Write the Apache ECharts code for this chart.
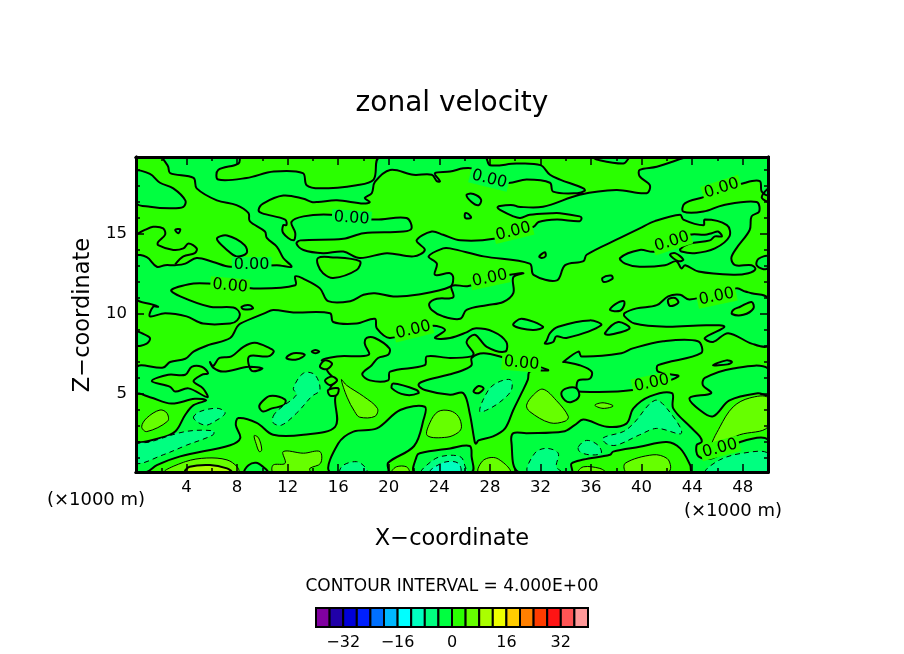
<!DOCTYPE html>
<html>
<head>
<meta charset="utf-8">
<title>zonal velocity</title>
<script src="https://cdn.jsdelivr.net/npm/echarts@6/dist/echarts.min.js"></script>
<style>
  html, body {margin: 0; padding: 0; background: #fff;}
  #chart {width: 904px; height: 654px;}
</style>
</head>
<body>
<div id="chart"></div>
<script>
// axis values, km
const xMajorTicks = [4, 8, 12, 16, 20, 24, 28, 32, 36, 40, 44, 48];
const xMinorTicks = [2, 6, 10, 14, 18, 22, 26, 30, 34, 38, 42, 46, 50];
const zMajorTicks = [5, 10, 15];
const zMinorTicks = [1, 2, 3, 4, 6, 7, 8, 9, 11, 12, 13, 14, 16, 17, 18, 19];
const zMin = 0.125;
const zMax = 19.81;

// colour bar, lower edge of every 4 m/s band
const barLevels = [-40, -36, -32, -28, -24, -20, -16, -12, -8, -4, 0, 4, 8, 12, 16, 20, 24, 28, 32, 36];
const barLabels = [-32, -16, 0, 16, 32];

// contour regions, [x km, z km]
// -4..0 band, outside of these is 0..4
const belowZero = [
  [[2.2,19.81],[8.1,19.81],[8.1,19.4],[6.5,19],[6.5,18.4],[8.75,18.5],[10.9,18.9],[13.2,18.8],[13.5,18.05],[14.55,17.85],[17.45,18.05],[18.8,18.4],[19.3,19.81],[27.6,19.81],[28,19.3],[30.1,19.4],[32,19.3],[32.75,18.7],[33.55,18.4],[35.4,17.85],[35.5,17.7],[34.9,17.55],[33,17.65],[32.75,18.2],[30.9,18.4],[29.3,18.2],[26.55,19.1],[25.9,19.1],[24.85,18.9],[23.65,18.8],[24.05,18.3],[23.8,18.3],[23.4,18.7],[21.95,18.7],[20.1,19],[18.9,18.25],[18.65,17.55],[18.1,17.25],[18.5,17],[18,16.9],[15.9,17.1],[14.4,17],[13.9,17],[13.25,17.2],[11.65,17.4],[10.05,16.9],[9.7,16.5],[9.95,16.3],[11.8,15.9],[11.9,15.55],[11.65,15.55],[11.65,15.05],[12.45,14.6],[12.6,15.05],[12.3,15.75],[13.25,16.1],[15.35,16.2],[18.9,15.9],[21.4,16],[21.8,15.35],[21.15,15.15],[18,15.05],[16.4,14.7],[13,14.6],[12.7,14.4],[13.25,14],[14.8,13.8],[16.4,13.9],[17.7,13.5],[19.85,13.8],[21.95,13.6],[22.85,14],[22.2,14.6],[23.4,15.15],[24.3,14.95],[25.65,14.6],[28.3,14.7],[31.45,15.45],[31.85,15.75],[33.3,15.9],[35.1,15.8],[35.25,16],[35.1,16.1],[33.55,16.3],[32.9,16.3],[31.15,16.2],[30.4,16],[29.85,16.1],[28.8,16.5],[28.6,16.65],[28.8,16.75],[29.85,16.8],[30.25,16.7],[32.2,16.7],[35.1,17.45],[38,17.75],[40.4,17.55],[40.65,18.05],[39.85,18.6],[39.85,19],[41.2,19.2],[43.3,19.75],[43.55,19.81],[50,19.81],[50,17.45],[49.5,17.65],[49.35,18.3],[48.2,18.2],[44.9,17.3],[43.4,16.9],[43.3,16.4],[44.9,16.4],[46.45,16.8],[49.1,17],[49.3,16.4],[48.7,16.1],[48.55,15.25],[47.5,14.1],[47.1,13.5],[47.4,13.05],[48.7,13.05],[49,12.8],[48.45,12.55],[47.25,12.45],[44.5,12.65],[43.45,13.05],[43.15,12.85],[42.75,13.3],[41.85,13.05],[39.85,12.95],[38.7,13.15],[38.3,13.5],[39.85,14],[41.05,13.9],[43.8,14.95],[45,14.95],[45.55,15.05],[46.05,15.15],[46.35,14.85],[45.8,14.85],[45.4,14.6],[43.8,14.4],[43.05,14.05],[43.15,13.9],[44.2,13.8],[45.8,14.1],[46.95,14.85],[46.75,15.55],[45,15.9],[44.9,15.55],[43.3,15.9],[43.05,16.2],[41.05,15.8],[39.85,15.35],[38.3,14.75],[35.65,13.7],[35.4,13.3],[33.95,13.05],[33.3,12.1],[31.45,12.45],[31.15,13.15],[27.5,13.6],[24.85,14.1],[24.3,14.1],[23.15,13.6],[23.8,13.15],[23.65,12.45],[24.85,12.55],[25.1,12.25],[24.85,11.7],[22.2,11.2],[20.35,11.1],[18.9,11.3],[18,11.2],[16.95,10.8],[15.2,10.8],[14.55,11.6],[13.25,12.2],[12.6,12.35],[12.6,11.8],[9.3,11.6],[5.7,11.9],[4.55,11.9],[2.8,11.5],[3.5,11.1],[5.85,10.45],[7.7,10.4],[8.2,10.05],[8,9.6],[7.45,9.4],[5.3,9.4],[4,9.85],[2.3,10.05],[1.1,9.85],[1.35,10.45],[1.75,10.45],[1.25,10.6],[0,10.98],[0,13.6],[0.85,13.55],[1.65,12.95],[2.3,13.05],[3.1,13.05],[3.9,13.15],[4.8,13.5],[6.1,13.25],[7.45,12.95],[11.15,13.05],[12.3,12.95],[11.65,13.5],[11.15,14.2],[10.35,14.75],[10.2,15.15],[9,15.8],[8.9,16.3],[7.95,16.8],[6.4,17.1],[4.8,17.85],[4.55,18.5],[2.7,18.8],[2.55,19.2]],
  [[0,18.9],[1.1,18.75],[1.9,18.2],[2.95,17.85],[3.9,17.1],[3.75,16.7],[2.7,16.6],[1.1,16.7],[0,16.95]],
  [[36.2,19.81],[36.45,19.65],[38.55,19.4],[38.95,19.7],[38.95,19.81]],
  [[0,6.6],[2.15,6.65],[2.7,7],[3.9,7.2],[4.55,7.65],[5.7,8.05],[7.45,8.5],[8,9.2],[8.25,9.4],[10.2,10.05],[10.85,10.25],[12.45,10.1],[15.35,10.05],[15.6,9.5],[17.45,9.4],[18.9,9.7],[19.05,9.1],[20.1,8.5],[23.4,9.25],[24.45,9],[23.65,8.5],[24.85,8.5],[26.15,8.85],[26.8,9.1],[28.25,8.9],[29.3,8.25],[29.2,7.65],[27.75,7.95],[26.8,8.7],[26.15,8.25],[26.7,7.55],[26.55,7.35],[24.85,7.25],[23,7.35],[22.85,6.8],[20.1,6.4],[19.95,5.85],[18.5,5.85],[17.9,6.25],[18.65,6.8],[19.15,7.25],[19.95,7.45],[20.05,7.85],[18.9,8.5],[18.25,8.5],[18.1,8.15],[18.4,7.45],[15.9,7.35],[14.7,7.1],[15.5,6.9],[15.1,6.55],[15.5,6.1],[15.9,5.85],[15.5,5.55],[15.35,5.25],[16,5.35],[15.8,4.9],[15.75,4.65],[15.75,2.95],[13.25,2.45],[10.85,2.45],[9.55,3.2],[8.1,3.5],[7.9,3.05],[8.25,2.25],[7.45,1.8],[3.5,1.1],[1.65,0.55],[0.85,0.125],[0,0.125]],
  [[24.97,11.75],[26.3,11.75],[29.6,12.45],[30.65,12.55],[29.85,12.3],[29.85,11.3],[29.05,10.75],[27.75,10.55],[26.15,10.25],[25.65,9.7],[24.3,9.85],[23.4,10.25],[23.2,10.65],[23.8,10.95],[25.1,11.05]],
  [[26.55,7.25],[27.5,7.55],[29.2,7.25],[32.6,6.5],[31.15,6.4],[31,5.9],[30.5,5.05],[29.85,4],[29.2,2.85],[28.25,2.35],[27.1,2.1],[26.9,1.9],[26.8,2],[26.4,3.8],[25.9,5.05],[24.85,4.95],[22.85,5.25],[22.35,5.55],[22.75,5.8],[24.7,6.2],[25.9,6.5],[26.55,6.8]],
  [[15.35,0.125],[16,1.9],[17.2,2.65],[19.05,2.85],[20.9,4],[22.85,4.2],[22.75,3.4],[22,1.75],[19.95,0.7],[19.9,0.125]],
  [[22.05,0.125],[22.2,1.1],[22.45,1.3],[24.85,1.6],[26.4,1.75],[26.55,1.1],[26.55,0.125]],
  [[30.25,0.125],[29.7,2],[29.85,2.55],[30.9,2.55],[33.8,2.65],[34.7,3.05],[35.4,3.4],[37.25,2.95],[38.8,3.15],[39.35,4.1],[40.65,4.85],[42.4,5.05],[42.5,4.1],[43.85,2.95],[44.6,2.35],[44.75,2],[44.35,1.8],[44.5,1.1],[45.65,1],[47.8,2],[50,2.15],[50,0.125],[44,0.125],[43.85,0.55],[43.05,1.6],[42,2],[39.85,1.7],[37.75,1.4],[37.5,1.2],[35.4,0.9],[34.45,0.65],[34.45,0.125]],
  [[8.6,0.125],[8.9,0.55],[9.5,0.7],[10.05,0.45],[10.4,0.125]],
  [[38.65,10.05],[39.6,10.35],[41.2,10.55],[42.1,11.1],[43.05,11.2],[43.8,10.9],[47.5,11.6],[48.2,11.4],[48.7,11.3],[50,10.95],[50,8.05],[48.7,8.15],[46.85,8.8],[45.65,8.25],[45,8.5],[46.55,9.2],[45.1,9.3],[41.95,9.2],[39.45,9.4],[38.65,9.85]],
  [[50,13.6],[49.25,13.45],[49.1,13.05],[49.65,12.8],[50,12.9]],
  [[50,6.6],[47.25,6.6],[45,6],[44.85,5.55],[45.5,5.05],[43.8,4.75],[44.6,4],[45.65,3.6],[46.95,4.6],[49.2,5.05],[50,4.95]],
  [[33.9,7],[35.1,6.8],[36.05,6.4],[35.9,5.95],[35,5.85],[34.85,5.35],[35,5.15],[39.3,5.25],[42.9,6.1],[41.3,6.4],[41.3,6.8],[44.7,7.55],[44.45,8.3],[41.7,8.3],[39.3,7.85],[38.4,7.55],[35.25,7.35],[35,7.65],[33.8,7]],
  [[33.65,5.05],[34.05,5.35],[34.85,5.35],[35.05,4.85],[34.45,4.5],[33.95,4.6]],
  [[29.85,9.3],[30.5,9.7],[32.2,9.2],[31.4,9]],
  [[32.75,8.8],[33.4,9.2],[35.9,9.6],[36.8,9.3],[34.05,8.5],[33.25,8.6],[33,8.25],[32.35,8.15],[32.5,8.35]],
  [[37.1,8.8],[38.15,9.5],[39.05,9.1],[37.45,8.7]],
  [[45.65,6.8],[46.7,7.1],[47.15,7],[46.8,6.85]],
  [[37.5,10.25],[37.9,10.6],[38.6,10.8],[38.6,10.5],[38.3,10.2]],
  [[36.9,12.25],[37.6,12.4],[37.7,12.2],[37,12]],
  [[26.15,17.45],[26.7,17.5],[27.3,17.15],[27.1,16.8],[26.55,17]],
  [[26.05,16.3],[26.3,16.25],[26.5,16],[26.05,16]],
  [[6.4,14.7],[7.2,14.9],[8.6,14.3],[8.75,13.8],[7.95,13.6],[7.2,14]],
  [[3.1,15.25],[3.5,15.3],[3.35,15.05]],
  [[8.35,10.45],[9,10.55],[9.25,10.35],[8.5,10.3]],
  [[0,8.9],[0.45,8.8],[1.1,8.5],[0.85,8.15],[0,8.05]],
  [[20.35,5.65],[22.2,5.25],[22.35,5.05],[21.3,4.95],[20.25,5.35]],
];

// islands of 0..4 sitting inside the regions above
const aboveZeroIslands = [
  [[0,4.95],[1.1,4.8],[2.8,4.4],[4.65,4.7],[5.55,4.6],[4.55,4.3],[3.9,3.7],[3.1,2.65],[1.9,2.25],[0,2.1]],
  [[1.25,5.8],[2.55,6.2],[3.9,6.2],[4.4,6.7],[5.2,6.7],[5.7,6.3],[5.2,6.2],[4.55,5.8],[5.3,5.35],[5.65,4.8],[4.15,5.35],[3.1,5.15],[2.7,5.45]],
  [[5.85,7],[6.1,6.65],[6.9,6.4],[8.9,6.7],[10,6.6],[9.15,6.45],[8.95,7.35],[10.45,7.35],[10.9,7.65],[10.6,7.85],[9.4,8.2],[8.5,7.95],[7.55,7.35],[6.6,7.25],[6.1,6.75]],
  [[11.9,7.25],[12.45,7.55],[13.35,7.45],[12.7,7.15]],
  [[13.9,7.65],[14.2,7.75],[14.5,7.65],[14.2,7.55]],
  [[9.75,4.2],[9.95,4.5],[10.6,4.88],[11.8,4.65],[11.7,4.3],[10.75,4.1],[10.05,3.9]],
  [[14.55,6.7],[14.95,7.1],[15.5,6.9],[15.1,6.55]],
  [[14.95,5.85],[15.5,6.1],[15.9,5.85],[15.35,5.55]],
  [[15.2,5.25],[16,5.35],[15.9,4.95],[15.35,4.9]],
  [[26.7,5.15],[27.1,5.5],[27.5,5.35],[27.1,5.05]],
  [[31.9,13.6],[32.35,13.85],[32.4,13.6],[32.1,13.5]],
  [[14.4,13.5],[15.35,13.55],[17.7,13.3],[17.45,12.75],[15.6,12.25],[14.8,12.55],[14.4,13.05]],
  [[42.1,10.9],[42.65,11],[42.9,10.7],[42.25,10.5]],
  [[47.25,10.25],[47.8,10.45],[48.7,10.75],[48.85,10.35],[48.05,9.95],[47.15,10]],
  [[42.25,13.7],[42.65,13.8],[43.3,13.4],[42.9,13.3]],
];

// zero lines that do not bound a filled region
const zeroLines = [
  [[0,14.95],[0.7,15.25],[1.35,15.45],[2.15,15.35],[2.3,14.95],[1.75,14.5],[1.75,14.3],[2.95,14],[3.75,14.1],[4.15,14.4],[4.8,14.1],[4.65,13.8],[3.75,13.6],[3.1,13.1]],
  [[50,17.85],[49.5,17.3],[50,17]],
];

const bandMinus8 = [
  [[0,1.81],[1.1,2],[3.9,2.65],[6.1,2.7],[6.1,2.45],[4,1.8],[2.15,1.2],[0,0.67]],
  [[4.55,3.5],[5.05,3.9],[6.5,4.1],[7.05,3.8],[6.25,3.3],[5.45,3.05]],
  [[10.85,3.6],[11.25,4],[12.7,4.95],[12.45,5.35],[13.25,6.3],[14.15,6.2],[14.55,5.25],[13.9,4.85],[12.7,3.8],[11.5,3.05],[10.85,3.2]],
  [[16.15,0.125],[16.4,0.55],[17.45,0.77],[18.1,0.45],[18.25,0.125]],
  [[22.6,0.125],[23,0.55],[24.05,1.08],[25.65,1.08],[26.05,0.45],[26.15,0.125]],
  [[27.2,3.9],[27.5,4.7],[28.25,5.55],[29.6,5.9],[29.7,5.25],[28.8,4.5],[27.75,4]],
  [[31,0.125],[31.55,1.3],[32.45,1.6],[33.4,1.3],[33.25,0.45],[33.65,0.125]],
  [[35,1.7],[35.65,2.1],[36.55,1.8],[36.8,1.3],[35.9,1.2],[35.1,1.4]],
  [[36.95,2.25],[38.55,2.65],[39.35,3.15],[41.05,4.6],[42.1,4],[43.15,2.55],[41.2,2.85],[39.85,2.45],[38,1.8],[37.2,1.9]],
  [[45.1,0.125],[46.15,0.87],[48,1.3],[50,1.3],[50,0.125]],
];
const bandMinus12 = [
  [[23.25,0.125],[23.65,0.45],[24.6,0.77],[25.5,0.67],[25.65,0.125]],
];
const bandPlus4 = [
  [[0.45,2.95],[0.85,3.5],[1.9,4],[2.45,3.8],[2.5,3.3],[0.85,2.65]],
  [[2.3,0.125],[3.9,0.77],[5.6,1],[7.2,0.88],[8,0.45],[8.1,0.125]],
  [[10.85,0.125],[10.85,0.56],[11.8,0.67],[11.65,1.4],[13.25,1.3],[14.55,1.4],[14.6,0.67],[13.75,0.35],[13.75,0.125]],
  [[9.35,2.4],[9.7,2.25],[9.95,1.5],[9.75,1.4],[9.5,1.9]],
  [[16.25,5.9],[16.65,5.55],[18,4.85],[19.1,4.1],[18.9,3.6],[17.7,3.55],[17.3,3.9],[16.7,4.8]],
  [[20.25,0.125],[20.6,0.45],[21.4,0.45],[21.6,0.125]],
  [[23.05,2.4],[23.25,3.2],[23.9,3.9],[24.85,3.95],[25.5,3.6],[25.75,2.95],[25.5,2.6],[24.6,2.3]],
  [[27.1,0.125],[27.5,0.87],[28.55,0.98],[29.6,0.125]],
  [[30.9,4.3],[31.45,4.95],[32.2,5.3],[33.25,4.6],[34.2,3.6],[33.95,3.3],[32.75,3.2],[31.15,3.9]],
  [[36.3,4.3],[36.95,4.45],[37.75,4.25],[36.95,4.1]],
  [[35,0.125],[35.4,0.45],[36.7,0.35],[37.1,0.125]],
  [[38.7,0.67],[40.9,1.2],[42,0.98],[42.3,0.45],[42.1,0.125],[38.8,0.125]],
  [[45.6,1.75],[46.2,2.95],[47.25,4.2],[48.55,4.75],[50,4.75],[50,2.95],[47.75,2.45]],
];
const bandPlus8 = [
  [[3.9,0.125],[4.25,0.45],[5.85,0.56],[7.2,0.35],[7.55,0.125]],
];

// contour labels: x km, z km, tilt in degrees, 1 when the label sits on the -4..0 colour
const zeroLabels = [
  [9.15,13.06,0,1],[7.44,11.75,-5,0],[17.06,15.98,-4,1],[27.95,18.42,-14,1],
  [29.85,15.15,14,0],[28,12.23,12,0],[46.33,17.85,18,0],[42.4,14.52,18,0],
  [45.94,11.08,12,0],[21.94,9,14,0],[30.5,6.92,-5,0],[40.8,5.67,12,0],[46.2,1.6,15,0],
];

const bandColors = {
  "-40": "#8000a0", "-36": "#2000a8", "-32": "#0000d8", "-28": "#0020ff", "-24": "#0070ff",
  "-20": "#00b8ff", "-16": "#00ffff", "-12": "#00ffc0", "-8": "#00ff80", "-4": "#00ff40",
  "0": "#2aff00", "4": "#66ff00", "8": "#aaff00", "12": "#eeff00", "16": "#ffcc00",
  "20": "#ff8000", "24": "#ff3c00", "28": "#ff1414", "32": "#ff5555", "36": "#ff9999",
};
const labelFont = "DejaVu Sans";

function regionSeries(rings, level, lineWidth, lineDash) {
  return {
    type: "custom",
    coordinateSystem: "cartesian2d",
    clip: true,
    silent: true,
    data: rings.map(ring => ring[0]),
    renderItem: (params, api) => ({
      type: "polygon",
      shape: {points: rings[params.dataIndex].map(point => api.coord(point)), smooth: 0.35},
      style: {fill: bandColors[level], stroke: "#000", lineWidth: lineWidth, lineDash: lineDash},
    }),
  };
}

function lineSeries(lines) {
  return {
    type: "custom",
    coordinateSystem: "cartesian2d",
    clip: true,
    silent: true,
    data: lines.map(line => line[0]),
    renderItem: (params, api) => ({
      type: "polyline",
      shape: {points: lines[params.dataIndex].map(point => api.coord(point)), smooth: 0.35},
      style: {fill: null, stroke: "#000", lineWidth: 2},
    }),
  };
}

const labelSeries = {
  type: "custom",
  coordinateSystem: "cartesian2d",
  silent: true,
  data: zeroLabels,
  renderItem: (params, api) => {
    const row = zeroLabels[params.dataIndex];
    const pos = api.coord([row[0], row[1]]);
    return {
      type: "text",
      x: pos[0],
      y: pos[1],
      rotation: row[2] * Math.PI / 180,
      style: {
        text: "0.00",
        font: "16px " + labelFont,
        fill: "#000",
        align: "center",
        verticalAlign: "middle",
        backgroundColor: bandColors[row[3] ? "-4" : "0"],
        padding: [0, 2],
      },
    };
  },
};

const barSeries = {
  type: "custom",
  coordinateSystem: "cartesian2d",
  xAxisIndex: 4,
  yAxisIndex: 4,
  silent: true,
  data: barLevels.map(level => [level, 0.5]),
  renderItem: (params, api) => {
    const level = barLevels[params.dataIndex];
    const from = api.coord([level, 1]);
    const to = api.coord([level + 4, 0]);
    return {
      type: "rect",
      shape: {x: from[0], y: from[1], width: to[0] - from[0], height: to[1] - from[1]},
      style: {fill: bandColors[level], stroke: "#000", lineWidth: 2},
    };
  },
};

function xAxis(position, ticks, length, labels) {
  return {
    type: "value", gridIndex: 0, position: position, min: 0, max: 50, z: 10,
    axisLine: {show: true, onZero: false, lineStyle: {color: "#000", width: 3}},
    axisTick: {show: true, inside: true, length: length, customValues: ticks, lineStyle: {color: "#000", width: 1.5}},
    axisLabel: labels ? {show: true, customValues: ticks, margin: 7, color: "#000", fontFamily: labelFont, fontSize: 16.5} : {show: false},
    splitLine: {show: false},
  };
}

function zAxis(position, ticks, length, labels) {
  return {
    type: "value", gridIndex: 0, position: position, min: zMin, max: zMax, z: 10,
    axisLine: {show: true, onZero: false, lineStyle: {color: "#000", width: 3}},
    axisTick: {show: true, inside: true, length: length, customValues: ticks, lineStyle: {color: "#000", width: 1.5}},
    axisLabel: labels ? {show: true, customValues: ticks, margin: 9, color: "#000", fontFamily: labelFont, fontSize: 16.5} : {show: false},
    splitLine: {show: false},
  };
}

function text(content, x, y, size, extra) {
  return {
    type: "text", x: x, y: y, rotation: (extra && extra.rotation) || 0,
    style: {text: content, font: size + "px " + labelFont, fill: "#000", align: (extra && extra.align) || "center", verticalAlign: "middle"},
  };
}

const chart = echarts.init(document.getElementById("chart"));
chart.setOption({
  animation: false,
  backgroundColor: "#fff",
  grid: [
    {left: 136, top: 157, width: 632, height: 315, show: true, backgroundColor: bandColors["0"], borderWidth: 0},
    {left: 316, top: 608, width: 272, height: 19, show: false},
  ],
  xAxis: [
    xAxis("bottom", xMajorTicks, 8, true),
    xAxis("bottom", xMinorTicks, 4, false),
    xAxis("top", xMajorTicks, 8, false),
    xAxis("top", xMinorTicks, 4, false),
    {
      type: "value", gridIndex: 1, min: -40, max: 40,
      axisLine: {show: false}, axisTick: {show: false}, splitLine: {show: false},
      axisLabel: {
        show: true, customValues: barLabels, margin: 8, color: "#000", fontFamily: labelFont, fontSize: 16,
        formatter: value => String(value).replace("-", "\u2212"),
      },
    },
  ],
  yAxis: [
    zAxis("left", zMajorTicks, 8, true),
    zAxis("left", zMinorTicks, 4, false),
    zAxis("right", zMajorTicks, 8, false),
    zAxis("right", zMinorTicks, 4, false),
    {type: "value", gridIndex: 1, min: 0, max: 1, show: false},
  ],
  series: [
    regionSeries(belowZero, "-4", 2),
    regionSeries(aboveZeroIslands, "0", 2),
    lineSeries(zeroLines),
    regionSeries(bandMinus8, "-8", 1, [5, 4]),
    regionSeries(bandMinus12, "-12", 1, [5, 4]),
    regionSeries(bandPlus4, "4", 1),
    regionSeries(bandPlus8, "8", 2),
    labelSeries,
    barSeries,
  ],
  graphic: [
    text("zonal velocity", 452, 104, 28),
    text("X\u2212coordinate", 452, 539, 22.5),
    text("Z\u2212coordinate", 83, 315, 22.5, {rotation: Math.PI / 2}),
    text("(\u00d71000 m)", 96, 500, 18),
    text("(\u00d71000 m)", 733, 511, 18),
    text("CONTOUR INTERVAL = 4.000E+00", 452, 587, 17),
  ],
});
</script>
</body>
</html>
